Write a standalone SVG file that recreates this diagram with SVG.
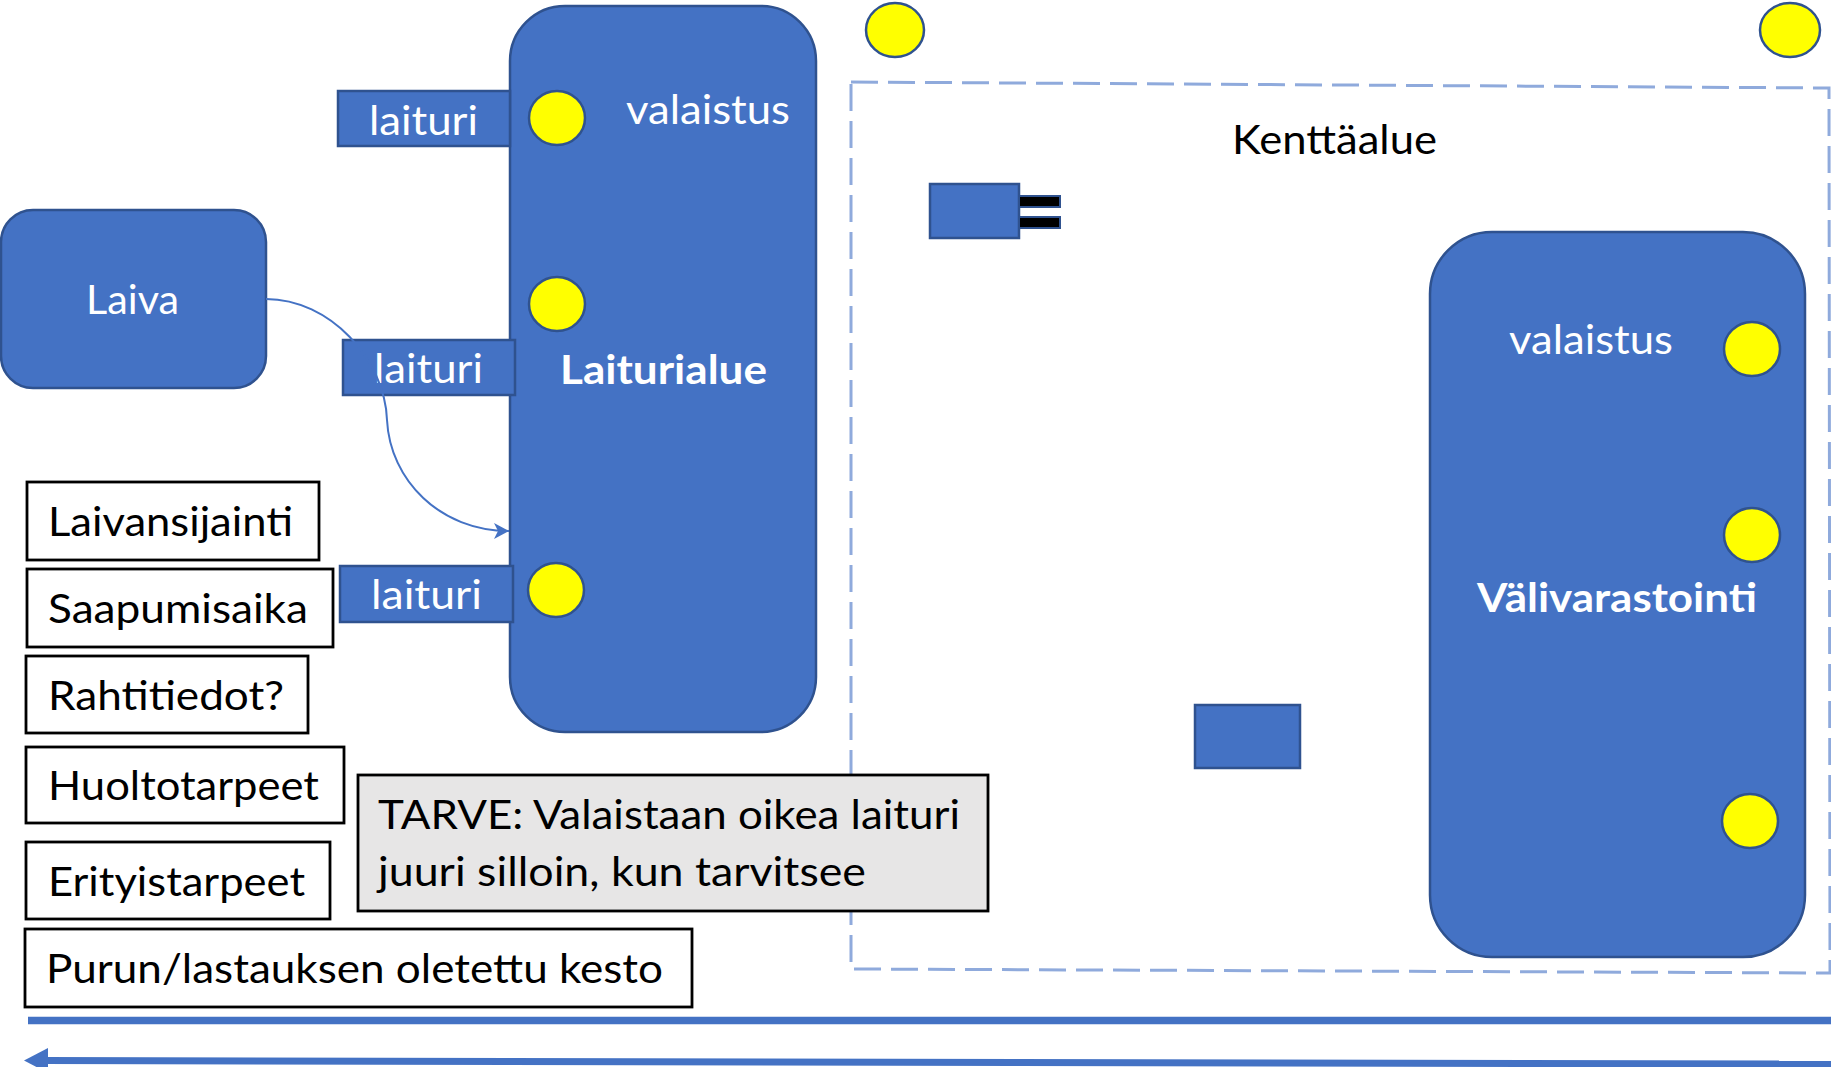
<svg xmlns="http://www.w3.org/2000/svg" width="1831" height="1067" viewBox="0 0 1831 1067">
<defs>
<style>
.blue{fill:#4472c4;stroke:#2f528f;stroke-width:2.5}
.lamp{fill:#ffff00;stroke:#2f528f;stroke-width:2.5}
.box{fill:#ffffff;stroke:#000000;stroke-width:2.8}
.note{fill:#e7e6e6;stroke:#000000;stroke-width:2.8}
.wt{font-family:Lato,"Open Sans","Liberation Sans",sans-serif;font-size:41px;fill:#ffffff}
.bt{font-family:Lato,"Open Sans","Liberation Sans",sans-serif;font-size:41px;fill:#000000}
.bold{font-weight:bold}
.conn{fill:none;stroke:#4472c4;stroke-width:2}
</style>
<marker id="arr" markerUnits="userSpaceOnUse" markerWidth="16" markerHeight="16" refX="15" refY="8" orient="auto">
<path d="M0,0 L15,8 L0,16 L4,8 z" fill="#4472c4"/>
</marker>
</defs>
<rect width="1831" height="1067" fill="#ffffff"/>

<g id="kenttaalue">
<path d="M851,82 L1829,88 L1830,973 L851,969 Z" fill="none" stroke="#8faadc" stroke-width="3" stroke-dasharray="27 10"/>
<text class="bt" x="1232" y="154" textLength="205" lengthAdjust="spacingAndGlyphs">Kenttäalue</text>
</g>

<g id="lamp-top-1"><ellipse class="lamp" cx="895" cy="30" rx="29" ry="27"/></g>
<g id="lamp-top-2"><ellipse class="lamp" cx="1790" cy="30" rx="30" ry="27"/></g>

<g id="laiturialue">
<rect class="blue" x="510" y="6" width="306" height="726" rx="55" ry="55"/>
<text class="wt" x="626" y="124" textLength="164" lengthAdjust="spacingAndGlyphs">valaistus</text>
<text class="wt bold" x="560" y="384" textLength="207" lengthAdjust="spacingAndGlyphs">Laiturialue</text>
<ellipse class="lamp" cx="557" cy="118" rx="28" ry="27"/>
<ellipse class="lamp" cx="557" cy="304" rx="28" ry="27"/>
<ellipse class="lamp" cx="556" cy="590" rx="28" ry="27"/>
</g>

<g id="laituri-1">
<rect class="blue" x="338" y="91" width="172" height="55"/>
<text class="wt" x="369" y="135" textLength="109" lengthAdjust="spacingAndGlyphs">laituri</text>
</g>
<g id="laituri-2">
<rect class="blue" x="343" y="340" width="172" height="55"/>
<text class="wt" x="374" y="383" textLength="109" lengthAdjust="spacingAndGlyphs">laituri</text>
</g>
<g id="laituri-3">
<rect class="blue" x="340" y="566" width="173" height="56"/>
<text class="wt" x="371" y="609" textLength="111" lengthAdjust="spacingAndGlyphs">laituri</text>
</g>

<g id="laiva">
<rect class="blue" x="1" y="210" width="265" height="178" rx="32" ry="32"/>
<text class="wt" x="86" y="314" textLength="93" lengthAdjust="spacingAndGlyphs">Laiva</text>
</g>

<g id="pistoke">
<rect class="blue" x="930" y="184" width="89" height="54"/>
<rect x="1019" y="196" width="41" height="11" fill="#000000" stroke="#2f528f" stroke-width="2"/>
<rect x="1019" y="217" width="41" height="11" fill="#000000" stroke="#2f528f" stroke-width="2"/>
</g>

<g id="kentta-laite"><rect class="blue" x="1195" y="705" width="105" height="63"/></g>

<g id="valivarastointi">
<rect class="blue" x="1430" y="232" width="375" height="725" rx="62" ry="62"/>
<text class="wt" x="1509" y="354" textLength="164" lengthAdjust="spacingAndGlyphs">valaistus</text>
<text class="wt bold" x="1477" y="612" textLength="280" lengthAdjust="spacingAndGlyphs">Välivarastointi</text>
<ellipse class="lamp" cx="1752" cy="349" rx="28" ry="27"/>
<ellipse class="lamp" cx="1752" cy="535" rx="28" ry="27"/>
<ellipse class="lamp" cx="1750" cy="821" rx="28" ry="27"/>
</g>

<g id="laivansijainti"><rect class="box" x="27" y="482" width="292" height="78"/><text class="bt" x="48" y="536" textLength="245" lengthAdjust="spacingAndGlyphs">Laivansijainti</text></g>
<g id="saapumisaika"><rect class="box" x="27" y="569" width="306" height="78"/><text class="bt" x="48" y="623" textLength="260" lengthAdjust="spacingAndGlyphs">Saapumisaika</text></g>
<g id="rahtitiedot"><rect class="box" x="26" y="656" width="282" height="77"/><text class="bt" x="48" y="710" textLength="236" lengthAdjust="spacingAndGlyphs">Rahtitiedot?</text></g>
<g id="huoltotarpeet"><rect class="box" x="26" y="747" width="318" height="76"/><text class="bt" x="48" y="800" textLength="271" lengthAdjust="spacingAndGlyphs">Huoltotarpeet</text></g>
<g id="erityistarpeet"><rect class="box" x="26" y="842" width="304" height="77"/><text class="bt" x="48" y="896" textLength="257" lengthAdjust="spacingAndGlyphs">Erityistarpeet</text></g>
<g id="kesto"><rect class="box" x="25" y="929" width="667" height="78"/><text class="bt" x="46" y="983" textLength="617" lengthAdjust="spacingAndGlyphs">Purun/lastauksen oletettu kesto</text></g>

<g id="tarve">
<rect class="note" x="358" y="775" width="630" height="136"/>
<text class="bt" x="378" y="829" textLength="582" lengthAdjust="spacingAndGlyphs">TARVE: Valaistaan oikea laituri</text>
<text class="bt" x="378" y="886" textLength="488" lengthAdjust="spacingAndGlyphs">juuri silloin, kun tarvitsee</text>
</g>

<g id="connectors">
<path class="conn" d="M266,299 C330,299 385,360 387,420 C390,480 440,531 509,531" marker-end="url(#arr)"/>
</g>

<g id="aikajana">
<line x1="28" y1="1020.5" x2="1831" y2="1020.5" stroke="#4472c4" stroke-width="7.5"/>
<line x1="44" y1="1060.5" x2="1831" y2="1064" stroke="#4472c4" stroke-width="7"/>
<polygon points="24,1060.5 48,1048 48,1073" fill="#4472c4"/>
</g>
</svg>
